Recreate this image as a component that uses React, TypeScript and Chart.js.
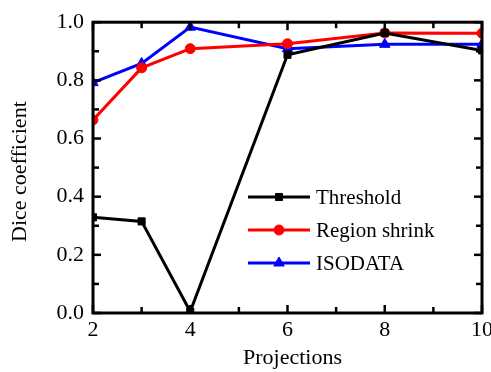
import React, { useEffect, useRef } from "react";
import { Chart, registerables } from "chart.js";
import { drawPoint } from "chart.js/helpers";

Chart.register(...registerables);

const projections = [2, 3, 4, 6, 8, 10];
const thresholdValues = [0.329, 0.315, 0.005, 0.888, 0.963, 0.903];
const regionShrinkValues = [0.664, 0.843, 0.909, 0.926, 0.963, 0.962];
const isodataValues = [0.792, 0.858, 0.983, 0.909, 0.924, 0.924];
const seriesNames = ["Threshold", "Region shrink", "ISODATA"];
const seriesColors = ["#000000", "#ff0000", "#0000ff"];
const seriesMarkers = ["rect", "circle", "triangle"];
const seriesRadius = [5, 5, 6];
const xTitle = "Projections";
const yTitle = "Dice coefficient";
const xMajorTicks = [2, 4, 6, 8, 10];
const xMinorTicks = [3, 5, 7, 9];
const yMajorTicks = [0, 0.2, 0.4, 0.6, 0.8, 1.0];
const yMinorTicks = [0.1, 0.3, 0.5, 0.7, 0.9];

const FONT = "'Liberation Serif', 'Times New Roman', serif";

const framePlugin = {
  id: "frame",
  afterDatasetsDraw(chart: any) {
    const { ctx, chartArea } = chart;
    const { left, right, top, bottom } = chartArea;
    const xs = chart.scales.x;
    const ys = chart.scales.y;
    ctx.save();
    ctx.strokeStyle = "#000";
    ctx.lineWidth = 2.5;
    const tick = (x1: number, y1: number, x2: number, y2: number) => {
      ctx.beginPath();
      ctx.moveTo(x1, y1);
      ctx.lineTo(x2, y2);
      ctx.stroke();
    };
    const major = 8;
    const minor = 6;
    xMajorTicks.forEach((v) => {
      const p = xs.getPixelForValue(v);
      tick(p, bottom, p, bottom - major);
      tick(p, top, p, top + major);
    });
    xMinorTicks.forEach((v) => {
      const p = xs.getPixelForValue(v);
      tick(p, bottom, p, bottom - minor);
      tick(p, top, p, top + minor);
    });
    yMajorTicks.forEach((v) => {
      const p = ys.getPixelForValue(v);
      tick(left, p, left + major, p);
      tick(right, p, right - major, p);
    });
    yMinorTicks.forEach((v) => {
      const p = ys.getPixelForValue(v);
      tick(left, p, left + minor, p);
      tick(right, p, right - minor, p);
    });
    ctx.lineWidth = 3;
    ctx.strokeRect(left, top, right - left, bottom - top);

    // axis titles
    ctx.fillStyle = "#000";
    ctx.font = `22px ${FONT}`;
    ctx.textAlign = "center";
    ctx.textBaseline = "middle";
    ctx.fillText(xTitle, (left + right) / 2 + 5, 358);
    ctx.save();
    ctx.translate(20, (top + bottom) / 2 + 4);
    ctx.rotate(-Math.PI / 2);
    ctx.fillText(yTitle, 0, 0);
    ctx.restore();

    // legend
    const rows = [197, 230, 263];
    chart.data.datasets.forEach((ds: any, i: number) => {
      const y = rows[i];
      ctx.strokeStyle = ds.borderColor;
      ctx.lineWidth = 3;
      ctx.beginPath();
      ctx.moveTo(248, y);
      ctx.lineTo(310, y);
      ctx.stroke();
      ctx.fillStyle = ds.backgroundColor;
      ctx.strokeStyle = ds.borderColor;
      ctx.lineWidth = 1;
      drawPoint(ctx, { pointStyle: ds.pointStyle, radius: ds.pointRadius, borderWidth: 1, rotation: 0 }, 279, y);
      ctx.fillStyle = "#000";
      ctx.font = `21px ${FONT}`;
      ctx.textAlign = "left";
      ctx.textBaseline = "middle";
      ctx.fillText(ds.label, 316, y + 1);
    });
    ctx.restore();
  },
};

export default function App() {
  const canvasRef = useRef<HTMLCanvasElement | null>(null);

  useEffect(() => {
    if (!canvasRef.current) return;
    const values = [thresholdValues, regionShrinkValues, isodataValues];
    const chart = new Chart(canvasRef.current, {
      type: "line",
      data: {
        datasets: values.map((vals, i) => ({
          label: seriesNames[i],
          data: projections.map((x, j) => ({ x, y: vals[j] })),
          borderColor: seriesColors[i],
          backgroundColor: seriesColors[i],
          borderWidth: 3,
          pointStyle: seriesMarkers[i] as any,
          pointRadius: seriesRadius[i],
          pointBorderWidth: 1,
          tension: 0,
        })),
      },
      options: {
        animation: false,
        responsive: false,
        maintainAspectRatio: false,
        layout: { padding: { top: 20, right: 9, left: 0, bottom: 0 } },
        plugins: {
          legend: { display: false },
          tooltip: { enabled: false },
        },
        scales: {
          x: {
            type: "linear",
            min: 2,
            max: 10,
            grid: { display: false, drawTicks: false },
            border: { display: false },
            ticks: {
              stepSize: 2,
              color: "#000",
              font: { family: FONT, size: 22 },
              padding: 4,
              maxRotation: 0,
            },
            afterFit(scale: any) {
              scale.height = 59;
              scale.paddingLeft = 0;
              scale.paddingRight = 0;
            },
          },
          y: {
            min: 0,
            max: 1,
            grid: { display: false, drawTicks: false },
            border: { display: false },
            ticks: {
              stepSize: 0.2,
              color: "#000",
              font: { family: FONT, size: 22 },
              padding: 9,
              callback: (v: any) => Number(v).toFixed(1),
            },
            afterFit(scale: any) {
              scale.width = 93;
            },
          },
        },
      },
      plugins: [framePlugin],
    });
    return () => chart.destroy();
  }, []);

  return (
    <div style={{ position: "fixed", left: 0, top: 0, width: 491, height: 372, background: "#fff" }}>
      <canvas ref={canvasRef} width={491} height={372} style={{ width: 491, height: 372 }} />
    </div>
  );
}
